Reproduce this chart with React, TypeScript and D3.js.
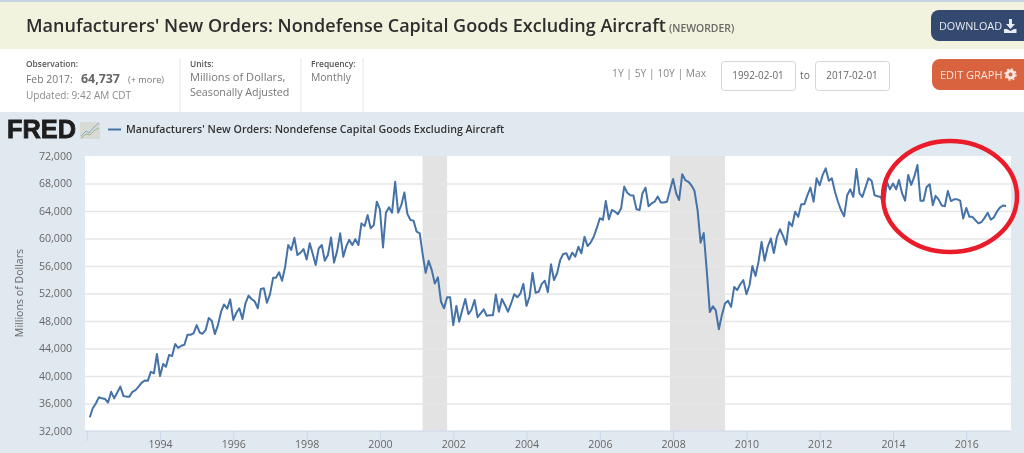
import { useEffect, useRef } from 'react';
import * as d3 from 'd3';

// Monthly values, first one is Feb 1992, each row holds 12 months
const orders = [
  34000, 35300, 36000, 36900, 36750, 36650, 36150, 37700, 36750, 37600, 38450, 37100,
  37000, 37000, 37700, 37950, 38450, 39000, 39350, 39300, 40600, 40400, 43200, 40000,
  41750, 41350, 43050, 42900, 44650, 44100, 44400, 44550, 46000, 46000, 46200, 47400,
  46300, 46150, 46700, 48450, 48000, 46100, 47400, 49350, 50400, 49800, 51150, 48150,
  49200, 49850, 48300, 50550, 51700, 51200, 50850, 49850, 52650, 52750, 50650, 51900,
  54300, 54300, 55100, 53850, 55900, 59050, 58350, 60100, 57600, 57950, 58450, 56950,
  59300, 57850, 56150, 58550, 59050, 56750, 57600, 60150, 56500, 58200, 60750, 57350,
  58900, 59800, 59050, 59900, 59050, 62200, 61800, 63400, 61500, 61950, 65350, 64250,
  58700, 63750, 64550, 63750, 68250, 63750, 64850, 66700, 63550, 62700, 62600, 61000,
  60750, 57850, 55000, 56750, 55400, 53450, 54350, 50800, 49850, 51450, 51450, 47400,
  50200, 47900, 49600, 51200, 49000, 49600, 51050, 48550, 49100, 49700, 48750, 48850,
  48850, 51850, 49350, 51200, 50300, 49350, 50550, 51900, 51450, 52000, 53400, 50200,
  51550, 55000, 52100, 52250, 53400, 53850, 52200, 56250, 53950, 54950, 56850, 57750,
  57850, 56950, 57950, 57350, 58800, 57850, 60250, 58900, 59400, 60250, 61500, 62950,
  62700, 65450, 62800, 64150, 63900, 63550, 64400, 67550, 66650, 66300, 66250, 64250,
  64150, 66550, 67400, 64700, 65100, 65350, 66100, 65250, 65250, 65350, 67050, 68650,
  66550, 65600, 69350, 68500, 68250, 67750, 66950, 64100, 59400, 60800, 55400, 49300,
  50150, 49550, 46800, 48850, 50550, 50950, 50050, 52950, 52500, 53350, 53950, 51900,
  53200, 56000, 54550, 56600, 59500, 56750, 58800, 60000, 57900, 60250, 61350, 60350,
  59100, 62400, 61800, 63900, 63150, 65000, 65000, 66300, 67400, 65350, 68750, 67750,
  69300, 70200, 68400, 68750, 66800, 65350, 64100, 63250, 66300, 67150, 66050, 70100,
  66550, 66050, 67400, 68750, 68400, 66300, 66150, 66050, 64850, 68250, 67150, 68000,
  67150, 68500, 66550, 65500, 69250, 67800, 69000, 70700, 65500, 65500, 67500, 67900,
  64850, 66200, 65650, 64800, 64700, 66900, 65450, 65700, 65700, 65500, 62900, 64450,
  63150, 63150, 62650, 62200, 62400, 63000, 63750, 62750, 63050, 63900, 64500, 64800,
  64737,
];
const yTicks = [32000, 36000, 40000, 44000, 48000, 52000, 56000, 60000, 64000, 68000, 72000];
const xTickYears = [1992, 1994, 1996, 1998, 2000, 2002, 2004, 2006, 2008, 2010, 2012, 2014, 2016];
const recessions = [
  [new Date(2001, 2, 1), new Date(2001, 10, 1)],
  [new Date(2007, 11, 1), new Date(2009, 5, 1)],
];
const seriesName = "Manufacturers' New Orders: Nondefense Capital Goods Excluding Aircraft";

const font = '"Open Sans", sans-serif';

const App = () => {
  const svgRef = useRef<SVGSVGElement>(null);

  useEffect(() => {
    if (!svgRef.current) return;
    const svg = d3.select(svgRef.current);
    svg.selectAll('*').remove();

    const addText = (x: number, y: number, str: string, size: number, color: string, weight = 400, anchor = 'start') =>
      svg.append('text')
        .attr('x', x)
        .attr('y', y)
        .attr('text-anchor', anchor)
        .style('font-family', font)
        .style('font-size', `${size}px`)
        .style('font-weight', weight)
        .style('fill', color)
        .text(str);

    // Page bands
    svg.append('rect').attr('width', 1024).attr('height', 453).attr('fill', '#ffffff');
    svg.append('rect').attr('width', 1024).attr('height', 2).attr('fill', '#c5d3e2');
    svg.append('rect').attr('y', 2).attr('width', 1024).attr('height', 47).attr('fill', '#f2f3de');
    svg.append('rect').attr('y', 112).attr('width', 1024).attr('height', 341).attr('fill', '#e1e9f0');

    // Header
    addText(26, 32, seriesName, 18, '#2e2e2e', 600);
    addText(669, 32, '(NEWORDER)', 10.4, '#666666', 600);

    svg.append('rect').attr('x', 931).attr('y', 10).attr('width', 100).attr('height', 31).attr('rx', 8).attr('fill', '#34496f');
    addText(939, 30, 'DOWNLOAD', 10.8, '#e8ecf2');
    svg.append('path').attr('d', 'M1009 19h3v5h3l-4.5 5l-4.5-5h3zM1004 29h3l3.500 2l3.500-2h2.500v4h-12.500z').attr('fill', '#e8ecf2');

    svg.append('rect').attr('x', 932).attr('y', 59).attr('width', 100).attr('height', 31).attr('rx', 8).attr('fill', '#d9623f');
    addText(940, 78.500, 'EDIT GRAPH', 11, '#f8e6df');
    svg.append('circle').attr('cx', 1010.500).attr('cy', 74.500).attr('r', 3.500).attr('fill', 'none').attr('stroke', '#f8e6df').attr('stroke-width', 3);
    svg.append('circle').attr('cx', 1010.500).attr('cy', 74.500).attr('r', 5.500).attr('fill', 'none').attr('stroke', '#f8e6df').attr('stroke-width', 1.500).attr('stroke-dasharray', '2 2.300');

    // Info columns
    [180, 301, 363].forEach(x => {
      svg.append('line').attr('x1', x).attr('x2', x).attr('y1', 58).attr('y2', 112).attr('stroke', '#dfe8f0');
    });
    addText(26, 67, 'Observation:', 8.4, '#555555', 600);
    addText(26, 83, 'Feb 2017:', 10.4, '#777777');
    addText(81, 83, '64,737', 12.4, '#666666', 700);
    addText(128, 83, '(+ more)', 9.2, '#777777');
    addText(26, 99, 'Updated: 9:42 AM CDT', 10, '#8a8a8a');
    addText(190, 67, 'Units:', 8.4, '#555555', 600);
    addText(190, 81, 'Millions of Dollars,', 11.1, '#777777');
    addText(190, 96, 'Seasonally Adjusted', 10.7, '#777777');
    addText(311, 67, 'Frequency:', 8.4, '#555555', 600);
    addText(311, 81, 'Monthly', 10.4, '#777777');

    addText(612, 77, '1Y | 5Y | 10Y | Max', 10.3, '#888888');
    [[721, '1992-02-01'], [815, '2017-02-01']].forEach(([x, label]) => {
      svg.append('rect').attr('x', +x + 0.5).attr('y', 61.500).attr('width', 74).attr('height', 29).attr('rx', 3)
        .attr('fill', '#ffffff').attr('stroke', '#d5d5d5');
      addText(+x + 37, 79, label as string, 9.9, '#666666', 400, 'middle');
    });
    addText(805, 79, 'to', 10.2, '#666666', 400, 'middle');

    // FRED logo and legend
    svg.append('text')
      .attr('x', 7)
      .attr('y', 138)
      .style('font-family', '"Liberation Sans", sans-serif')
      .style('font-size', '25px')
      .style('font-weight', 700)
      .style('stroke', '#1e1e1e')
      .style('stroke-width', 0.8)
      .style('fill', '#1e1e1e')
      .attr('textLength', 69)
      .attr('lengthAdjust', 'spacingAndGlyphs')
      .text('FRED');
    svg.append('rect').attr('x', 80).attr('y', 122).attr('width', 20).attr('height', 17).attr('fill', '#d8dad6');
    svg.append('path').attr('d', 'M81 136l5-5l3 2l5-6l5-4').attr('fill', 'none').attr('stroke', '#8aa9c4').attr('stroke-width', 1);
    svg.append('path').attr('d', 'M81 138l5-4l4 1l5-5l4-2').attr('fill', 'none').attr('stroke', '#9db58a').attr('stroke-width', 1);
    svg.append('line').attr('x1', 108).attr('x2', 121).attr('y1', 129.500).attr('y2', 129.500).attr('stroke', '#4572a7').attr('stroke-width', 2);
    addText(126, 133, seriesName, 10.65, '#333333', 600);

    // Scales
    const margin = { top: 156, right: 1011, bottom: 431, left: 85 };
    const xScale = d3.scaleTime()
      .domain([new Date(1992, 0, 1), new Date(2016, 0, 1)])
      .range([86.7, 966.3]);
    const yScale = d3.scaleLinear()
      .domain([32000, 72000])
      .range([margin.bottom, margin.top]);

    // Plot area
    svg.append('rect')
      .attr('x', margin.left)
      .attr('y', margin.top)
      .attr('width', margin.right - margin.left)
      .attr('height', margin.bottom - margin.top)
      .attr('fill', '#ffffff');

    // Recession bands
    svg.selectAll('.recession')
      .data(recessions)
      .join('rect')
      .attr('class', 'recession')
      .attr('x', d => xScale(d[0]))
      .attr('y', margin.top)
      .attr('width', d => xScale(d[1]) - xScale(d[0]))
      .attr('height', margin.bottom - margin.top)
      .attr('fill', '#e3e3e3');

    // Axes
    const yAxis = d3.axisLeft(yScale)
      .tickValues(yTicks)
      .tickSize(margin.left - margin.right)
      .tickPadding(13)
      .tickFormat(d3.format(','));
    const yGroup = svg.append('g')
      .attr('transform', `translate(${margin.left},0)`)
      .call(yAxis);
    yGroup.select('.domain').remove();
    yGroup.selectAll('.tick line')
      .style('stroke', '#e6e6e6')
      .style('stroke-width', 1.5);
    yGroup.selectAll('.tick')
      .filter(d => d === 32000 || d === 72000)
      .select('line')
      .remove();
    yGroup.selectAll('text')
      .style('font-family', font)
      .style('font-size', '10.6px')
      .style('fill', '#666666');

    const xAxis = d3.axisBottom(xScale)
      .tickValues(xTickYears.map(y => new Date(y, 0, 1)))
      .tickSize(10)
      .tickPadding(-1)
      .tickFormat(d => (d as Date).getFullYear() === 1992 ? '' : d3.timeFormat('%Y')(d as Date));
    const xGroup = svg.append('g')
      .attr('transform', `translate(0,${margin.bottom})`)
      .call(xAxis);
    xGroup.select('.domain').remove();
    xGroup.append('line')
      .attr('x1', margin.left)
      .attr('x2', margin.right)
      .style('stroke', '#ccd6eb');
    xGroup.selectAll('.tick line').style('stroke', '#ccd6eb');
    xGroup.selectAll('text')
      .attr('x', 0)
      .style('font-family', font)
      .style('font-size', '10.6px')
      .style('fill', '#666666');

    svg.append('text')
      .attr('transform', 'translate(23,293) rotate(-90)')
      .attr('text-anchor', 'middle')
      .style('font-family', font)
      .style('font-size', '10.6px')
      .style('fill', '#666666')
      .text('Millions of Dollars');

    // Series line
    const line = d3.line<number>()
      .x((_, i) => xScale(new Date(1992, 1 + i, 1)))
      .y(d => yScale(d));
    svg.append('path')
      .datum(orders)
      .attr('fill', 'none')
      .attr('stroke', '#4572a7')
      .attr('stroke-width', 2)
      .attr('stroke-linejoin', 'round')
      .attr('d', line);

    // Hand drawn red circle
    svg.append('ellipse')
      .attr('cx', 950)
      .attr('cy', 196.500)
      .attr('rx', 67)
      .attr('ry', 55.500)
      .attr('fill', 'none')
      .attr('stroke', '#ea1c2a')
      .attr('stroke-width', 4.500);
  }, []);

  return (
    <svg
      ref={svgRef}
      width={1024}
      height={453}
      style={{ position: 'absolute', left: 0, top: 0, filter: 'blur(0.4px)' }}
    />
  );
};

export default App;
